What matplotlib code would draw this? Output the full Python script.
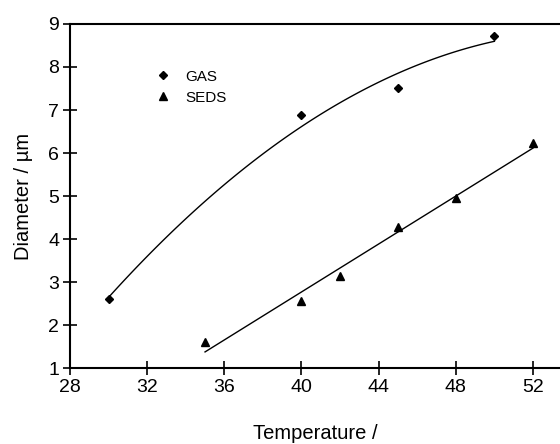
import numpy as np
import matplotlib
matplotlib.use("Agg")
import matplotlib.pyplot as plt

plt.rcParams["font.family"] = ["Liberation Sans", "DejaVu Sans"]

# data
gas_temp = [30, 40, 45, 50]
gas_diam = [2.6, 6.88, 7.5, 8.73]
seds_temp = [35, 40, 42, 45, 48, 52]
seds_diam = [1.6, 2.57, 3.13, 4.27, 4.95, 6.23]

x_ticks = [28, 32, 36, 40, 44, 48, 52]
y_ticks = [1, 2, 3, 4, 5, 6, 7, 8, 9]

fig = plt.figure(figsize=(5.6, 4.44), dpi=100)
ax = fig.add_axes([0.125, 0.171, 0.875, 0.775])

# trend lines (quadratic for GAS, linear for SEDS)
gas_fit = np.polyfit(gas_temp, gas_diam, 2)
xg = np.linspace(min(gas_temp), max(gas_temp), 100)
ax.plot(xg, np.polyval(gas_fit, xg), color="black", linewidth=1)

seds_fit = np.polyfit(seds_temp, seds_diam, 1)
xs = np.linspace(min(seds_temp), max(seds_temp), 2)
ax.plot(xs, np.polyval(seds_fit, xs), color="black", linewidth=1)

ax.plot(gas_temp, gas_diam, linestyle="none", marker="D", markersize=4.5,
        color="black", label="GAS")
ax.plot(seds_temp, seds_diam, linestyle="none", marker="^", markersize=5.5,
        color="black", label="SEDS")

ax.set_xlim(28, 53.4)
ax.set_ylim(1, 9)
ax.set_xticks(x_ticks)
ax.set_yticks(y_ticks)
ax.tick_params(direction="inout", length=9.5, width=1.2, labelsize=14, pad=3)
for side in ["left", "bottom", "top"]:
    ax.spines[side].set_linewidth(1.5)
ax.spines["right"].set_visible(False)

ax.set_xlabel("Temperature /", fontsize=14.5, labelpad=20)
ax.set_ylabel("Diameter / \u00b5m", fontsize=14.5, labelpad=11)

ax.legend(loc="upper left", bbox_to_anchor=(0.138, 0.907), frameon=False,
          fontsize=11, handletextpad=0.7, labelspacing=0.45, handlelength=1.5)

fig.savefig("out.png", dpi=100)
